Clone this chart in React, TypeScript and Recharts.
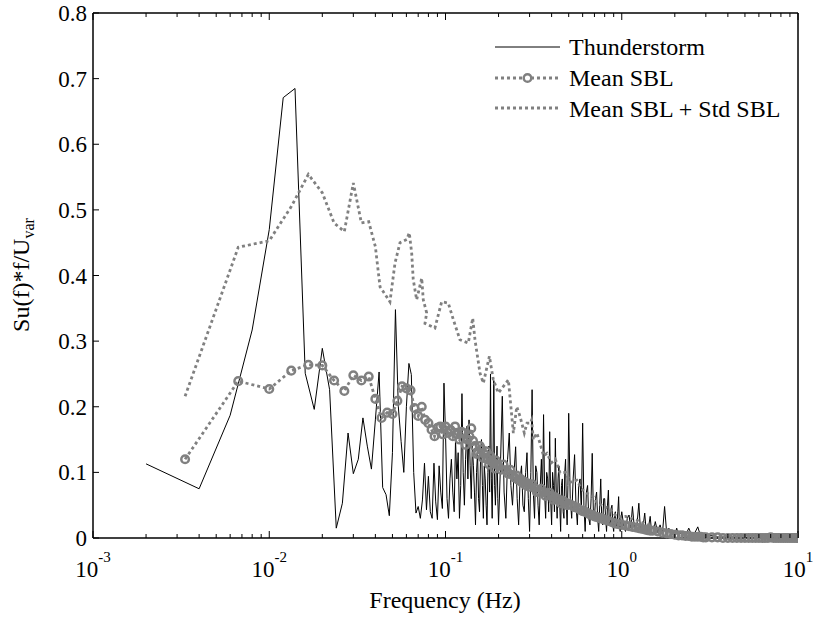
import React from "react";
import { LineChart, Line, XAxis, YAxis, Legend } from "recharts";

// [frequency Hz, Su(f)*f/Uvar]
const thunderstorm: [number, number][] = [
  [0.002, 0.113], [0.004, 0.075], [0.006, 0.187], [0.008, 0.317], [0.01, 0.47],
  [0.012, 0.671], [0.014, 0.685], [0.016, 0.251], [0.018, 0.196], [0.02, 0.289],
  [0.022, 0.226], [0.024, 0.015], [0.026, 0.053], [0.028, 0.16], [0.03, 0.098],
  [0.032, 0.12], [0.034, 0.183], [0.036, 0.14], [0.038, 0.105], [0.04, 0.18],
  [0.042, 0.253], [0.044, 0.077], [0.046, 0.066], [0.048, 0.034], [0.05, 0.13],
  [0.052, 0.348], [0.054, 0.2], [0.056, 0.147], [0.058, 0.1], [0.06, 0.2],
  [0.062, 0.266], [0.064, 0.249], [0.066, 0.1], [0.068, 0.038], [0.07, 0.048],
  [0.072, 0.03], [0.074, 0.058], [0.076, 0.114], [0.078, 0.043], [0.08, 0.094],
  [0.082, 0.04], [0.084, 0.03], [0.086, 0.114], [0.088, 0.055], [0.09, 0.028],
  [0.092, 0.11], [0.094, 0.07], [0.096, 0.045], [0.098, 0.236], [0.1, 0.16],
];

const thunderstormMid: [number, number][] = [
  [0.102, 0.06], [0.104, 0.03], [0.106, 0.09], [0.108, 0.12], [0.11, 0.07], [0.112, 0.04],
  [0.114, 0.15], [0.116, 0.09], [0.118, 0.13], [0.12, 0.03], [0.122, 0.08],
  [0.124, 0.22], [0.126, 0.1], [0.128, 0.05], [0.13, 0.12], [0.132, 0.17], [0.134, 0.09],
  [0.136, 0.18], [0.138, 0.11], [0.14, 0.06], [0.142, 0.14],
  [0.144, 0.11], [0.146, 0.07], [0.148, 0.02], [0.15, 0.1], [0.152, 0.13], [0.154, 0.06],
  [0.156, 0.04], [0.158, 0.12], [0.16, 0.15], [0.162, 0.08],
  [0.164, 0.03], [0.166, 0.11], [0.168, 0.09], [0.17, 0.05], [0.172, 0.02], [0.174, 0.1],
  [0.176, 0.14], [0.178, 0.07], [0.18, 0.25], [0.182, 0.09],
  [0.184, 0.03], [0.186, 0.12], [0.188, 0.24], [0.19, 0.08], [0.192, 0.05], [0.194, 0.1],
  [0.196, 0.14], [0.198, 0.06], [0.2, 0.02],
  [0.205, 0.11], [0.21, 0.216], [0.215, 0.07], [0.22, 0.03], [0.225, 0.12], [0.23, 0.16],
  [0.235, 0.08], [0.24, 0.05], [0.245, 0.1], [0.25, 0.139], [0.255, 0.06],
  [0.26, 0.02], [0.265, 0.09], [0.27, 0.11], [0.275, 0.05], [0.28, 0.04], [0.285, 0.1],
  [0.29, 0.13], [0.295, 0.06], [0.3, 0.01],
  [0.305, 0.1], [0.31, 0.226], [0.315, 0.07], [0.32, 0.03], [0.325, 0.11], [0.33, 0.1],
  [0.335, 0.05], [0.34, 0.02], [0.345, 0.08], [0.35, 0.12],
  [0.355, 0.06], [0.36, 0.188], [0.365, 0.07], [0.37, 0.03], [0.375, 0.1], [0.38, 0.09],
  [0.385, 0.04], [0.39, 0.162], [0.395, 0.06], [0.4, 0.02],
  [0.405, 0.1], [0.41, 0.08], [0.415, 0.04], [0.42, 0.152], [0.425, 0.07], [0.43, 0.03],
  [0.435, 0.09], [0.44, 0.11], [0.445, 0.05], [0.45, 0.01],
  [0.455, 0.08], [0.46, 0.09], [0.465, 0.04], [0.47, 0.03], [0.475, 0.1], [0.48, 0.12],
  [0.485, 0.05], [0.49, 0.02], [0.495, 0.08], [0.5, 0.19],
];

const thunderstormHigh: [number, number][] = [
  [0.51, 0.06], [0.52, 0.03], [0.53, 0.09], [0.54, 0.127], [0.55, 0.05], [0.56, 0.02],
  [0.57, 0.08], [0.58, 0.09], [0.59, 0.04], [0.6, 0.175],
  [0.61, 0.05], [0.62, 0.01], [0.63, 0.07], [0.64, 0.08], [0.65, 0.03], [0.66, 0.02],
  [0.67, 0.06], [0.68, 0.129], [0.69, 0.04], [0.7, 0.03],
  [0.71, 0.06], [0.72, 0.07], [0.73, 0.03], [0.74, 0.01], [0.75, 0.05], [0.76, 0.09],
  [0.77, 0.03], [0.78, 0.02], [0.79, 0.06], [0.8, 0.06],
  [0.81, 0.03], [0.82, 0.01], [0.83, 0.05], [0.84, 0.073], [0.85, 0.02], [0.86, 0.02],
  [0.87, 0.045], [0.88, 0.05], [0.89, 0.02], [0.9, 0.01],
  [0.91, 0.035], [0.92, 0.04], [0.93, 0.015], [0.94, 0.02], [0.95, 0.04], [0.96, 0.063],
  [0.97, 0.02], [0.98, 0.01], [0.99, 0.03], [1.0, 0.04],
  [1.025, 0.02], [1.05, 0.01], [1.075, 0.03], [1.1, 0.035], [1.125, 0.015], [1.15, 0.048],
  [1.175, 0.02], [1.2, 0.01], [1.225, 0.025], [1.25, 0.053],
  [1.275, 0.015], [1.3, 0.008], [1.325, 0.02], [1.35, 0.038], [1.375, 0.012], [1.4, 0.01],
  [1.425, 0.02], [1.45, 0.033], [1.475, 0.01], [1.5, 0.005],
  [1.55, 0.025], [1.6, 0.008], [1.65, 0.02], [1.7, 0.005], [1.75, 0.048],
  [1.8, 0.006], [1.85, 0.015], [1.9, 0.004], [1.95, 0.012], [2.0, 0.003],
  [2.05, 0.015], [2.1, 0.004], [2.2, 0.01], [2.3, 0.003], [2.4, 0.015],
  [2.5, 0.004], [2.6, 0.008], [2.7, 0.017], [2.8, 0.003], [3.0, 0.005],
  [3.5, 0.002], [4.0, 0.001], [5.0, 0.001], [6.0, 0.001], [8.0, 0.001], [10.0, 0.001],
];

const meanSbl: [number, number][] = [
  [0.00333, 0.12], [0.00667, 0.239], [0.01, 0.227], [0.01333, 0.255], [0.01667, 0.264],
  [0.02, 0.263], [0.02333, 0.24], [0.02667, 0.224], [0.03, 0.248], [0.03333, 0.24],
  [0.03667, 0.246], [0.04, 0.212], [0.04333, 0.183], [0.04667, 0.191], [0.05, 0.189],
  [0.05333, 0.209], [0.05667, 0.231], [0.06, 0.228], [0.06333, 0.225], [0.06667, 0.198],
  [0.07, 0.186], [0.07333, 0.2], [0.07667, 0.18], [0.08, 0.175], [0.08333, 0.165],
  [0.08667, 0.155], [0.09, 0.168], [0.09333, 0.17], [0.09667, 0.158], [0.1, 0.17],
  [0.1033, 0.16], [0.1067, 0.165], [0.11, 0.155], [0.1133, 0.17], [0.1167, 0.158],
  [0.12, 0.15], [0.1233, 0.162], [0.1267, 0.16], [0.13, 0.142], [0.1333, 0.15],
  [0.1367, 0.155], [0.14, 0.167], [0.1433, 0.148], [0.1467, 0.14], [0.15, 0.128],
  [0.1533, 0.13], [0.1567, 0.14], [0.16, 0.135], [0.1633, 0.122], [0.1667, 0.128],
  [0.17, 0.132], [0.1733, 0.12], [0.1767, 0.112], [0.18, 0.125], [0.1833, 0.118],
  [0.1867, 0.114], [0.19, 0.106], [0.1933, 0.118], [0.1967, 0.112], [0.2, 0.11],
  [0.2067, 0.104], [0.2133, 0.112], [0.22, 0.103], [0.2267, 0.098], [0.2333, 0.104],
  [0.24, 0.096], [0.2467, 0.092], [0.2533, 0.095], [0.26, 0.088], [0.2667, 0.09],
  [0.2733, 0.084], [0.28, 0.086], [0.2867, 0.08], [0.2933, 0.083], [0.3, 0.078],
  [0.31, 0.082], [0.32, 0.076], [0.33, 0.07], [0.34, 0.072], [0.35, 0.075],
  [0.36, 0.07], [0.37, 0.064], [0.38, 0.066], [0.39, 0.069], [0.4, 0.064],
  [0.41, 0.058], [0.42, 0.062], [0.43, 0.06], [0.44, 0.058], [0.45, 0.053],
  [0.46, 0.057], [0.47, 0.055], [0.48, 0.054], [0.49, 0.05], [0.5, 0.052],
  [0.52, 0.05], [0.54, 0.047], [0.56, 0.046], [0.58, 0.043], [0.6, 0.041],
  [0.62, 0.04], [0.64, 0.038], [0.66, 0.036], [0.68, 0.035], [0.7, 0.033],
  [0.72, 0.032], [0.74, 0.031], [0.76, 0.03], [0.78, 0.029], [0.8, 0.028],
  [0.84, 0.026], [0.88, 0.024], [0.92, 0.022], [0.96, 0.021], [1.0, 0.02],
  [1.05, 0.019], [1.1, 0.018], [1.15, 0.017], [1.2, 0.016], [1.25, 0.015], [1.3, 0.014],
  [1.35, 0.013], [1.4, 0.012], [1.45, 0.011], [1.5, 0.011],
  [1.6, 0.01], [1.7, 0.008], [1.8, 0.007], [1.9, 0.006], [2.0, 0.005],
  [2.1, 0.004], [2.2, 0.004], [2.3, 0.003], [2.4, 0.003], [2.5, 0.002], [2.6, 0.002],
  [2.7, 0.002], [2.8, 0.002], [2.9, 0.001], [3.0, 0.001],
  [3.25, 0.001], [3.5, 0.001], [3.75, 0], [4.0, 0], [4.25, 0], [4.5, 0],
  [4.75, 0], [5.0, 0], [5.25, 0], [5.5, 0], [5.75, 0], [6.0, 0], [6.25, 0],
  [6.5, 0], [6.75, 0], [7.0, 0.001], [7.25, 0], [7.5, 0], [7.75, 0], [8.0, 0],
  [8.25, 0], [8.5, 0], [8.75, 0], [9.0, 0], [9.25, 0], [9.5, 0], [9.75, 0], [10.0, 0],
];

const meanPlusStd: [number, number][] = [
  [0.00333, 0.216], [0.00667, 0.443], [0.01, 0.453], [0.01333, 0.505], [0.01667, 0.554],
  [0.02, 0.526], [0.02333, 0.48], [0.02667, 0.467], [0.03, 0.541], [0.03333, 0.48],
  [0.03667, 0.482], [0.04, 0.444], [0.0425, 0.383], [0.0484, 0.36], [0.0517, 0.419],
  [0.0552, 0.45], [0.0603, 0.455], [0.0623, 0.465], [0.0643, 0.434], [0.0656, 0.394],
  [0.0686, 0.363], [0.0733, 0.396], [0.0748, 0.363], [0.0782, 0.343], [0.0765, 0.327],
  [0.0871, 0.32], [0.0951, 0.36], [0.1037, 0.358], [0.1107, 0.333], [0.1208, 0.302],
  [0.1347, 0.297], [0.1427, 0.335], [0.147, 0.302], [0.157, 0.251], [0.164, 0.236],
  [0.1774, 0.277], [0.1868, 0.241], [0.1995, 0.221], [0.2274, 0.241], [0.235, 0.2],
  [0.2427, 0.16], [0.2537, 0.2], [0.265, 0.185], [0.28, 0.16], [0.29, 0.175],
  [0.302, 0.175], [0.308, 0.18], [0.315, 0.15], [0.33, 0.16], [0.344, 0.144],
  [0.36, 0.125], [0.376, 0.129], [0.4, 0.115], [0.42, 0.12], [0.447, 0.099],
  [0.48, 0.1], [0.51, 0.085], [0.556, 0.088], [0.59, 0.075], [0.634, 0.068],
  [0.68, 0.065], [0.72, 0.055], [0.788, 0.048], [0.85, 0.045], [0.938, 0.032],
  [1.05, 0.033], [1.22, 0.027], [1.4, 0.02], [1.6, 0.015], [2.06, 0.007],
  [2.6, 0.003], [3.5, 0.001], [5.0, 0], [7.0, 0.002], [10.0, 0],
];

const xMajorTicks = [0.001, 0.01, 0.1, 1, 10];
const xMinorTicks = [0.001, 0.01, 0.1, 1].flatMap((d) => [2, 3, 4, 5, 6, 7, 8, 9].map((m) => m * d));
const yTicks = [0, 0.1, 0.2, 0.3, 0.4, 0.5, 0.6, 0.7, 0.8];
const seriesNames = ["Thunderstorm", "Mean SBL", "Mean SBL + Std SBL"];

const FONT = "Liberation Serif";
const GRAY = "#808080";

const toRows = (pts: [number, number][]) => pts.map(([f, v]) => ({ f, v }));

const isMajor = (v: number) => Math.abs(Math.log10(v) - Math.round(Math.log10(v))) < 1e-6;

const BottomTick = (props: any) => {
  const { x, y, payload } = props;
  const v = payload.value;
  const major = isMajor(v);
  return (
    <g>
      <line x1={x} x2={x} y1={y} y2={y - (major ? 7 : 4)} stroke="#000" />
      {major && (
        <text x={x} y={y + 39} textAnchor="middle" fontSize={23} fontFamily={FONT} fill="#000">
          10
          <tspan dy={-15} fontSize={15}>{Math.round(Math.log10(v))}</tspan>
        </text>
      )}
    </g>
  );
};

const TopTick = (props: any) => {
  const { x, y, payload } = props;
  const major = isMajor(payload.value);
  return <line x1={x} x2={x} y1={y} y2={y + (major ? 7 : 4)} stroke="#000" />;
};

const LeftTick = (props: any) => {
  const { x, y, payload } = props;
  return (
    <g>
      <line x1={x} x2={x + 6} y1={y} y2={y} stroke="#000" />
      <text x={x - 6} y={y} dy="0.35em" textAnchor="end" fontSize={23} fontFamily={FONT} fill="#000">
        {String(payload.value)}
      </text>
    </g>
  );
};

const RightTick = (props: any) => {
  const { x, y } = props;
  return <line x1={x} x2={x - 6} y1={y} y2={y} stroke="#000" />;
};

const YLabel = () => (
  <text x={29} y={275} transform="rotate(-90, 29, 275)" textAnchor="middle" fontSize={24} fontFamily={FONT} fill="#000">
    Su(f)*f/U
    <tspan dy={5} fontSize={16}>var</tspan>
  </text>
);

const XLabel = () => (
  <text x={445} y={608} textAnchor="middle" fontSize={24} fontFamily={FONT} fill="#000">
    Frequency (Hz)
  </text>
);

const renderLegend = () => (
  <svg width={320} height={100} style={{ display: "block" }}>
    <line x1={5} x2={70} y1={19} y2={19} stroke="#000" strokeWidth={1} />
    <line x1={5} x2={70} y1={50} y2={50} stroke={GRAY} strokeWidth={2.8} strokeDasharray="3 3" />
    <circle cx={37.5} cy={50} r={3.8} stroke={GRAY} strokeWidth={2.5} fill="#fff" />
    <line x1={5} x2={70} y1={80} y2={80} stroke={GRAY} strokeWidth={2.8} strokeDasharray="3 3" />
    {seriesNames.map((name, i) => (
      <text key={name} x={79} y={27 + i * 31} fontSize={24} fontFamily={FONT} fill="#000">
        {name}
      </text>
    ))}
  </svg>
);

export default function App() {
  return (
    <div style={{ position: "absolute", left: 0, top: 0, background: "#fff" }}>
      <LineChart width={816} height={623} margin={{ top: 12, right: 17, bottom: 25, left: 23 }}>
        <XAxis
          dataKey="f"
          type="number"
          scale="log"
          domain={[0.001, 10]}
          allowDataOverflow
          ticks={[...xMajorTicks, ...xMinorTicks]}
          interval={0}
          tick={<BottomTick />}
          tickLine={false}
          tickSize={0}
          tickMargin={0}
          height={60}
          axisLine={{ stroke: "#000", strokeWidth: 1.5 }}
          label={<XLabel />}
        />
        <XAxis
          xAxisId="top"
          orientation="top"
          dataKey="f"
          type="number"
          scale="log"
          domain={[0.001, 10]}
          allowDataOverflow
          ticks={[...xMajorTicks, ...xMinorTicks]}
          interval={0}
          tick={<TopTick />}
          tickLine={false}
          tickSize={0}
          tickMargin={0}
          height={1}
          axisLine={{ stroke: "#000", strokeWidth: 1.5 }}
        />
        <YAxis
          type="number"
          domain={[0, 0.8]}
          ticks={yTicks}
          interval={0}
          tick={<LeftTick />}
          tickLine={false}
          tickSize={0}
          tickMargin={0}
          width={70}
          axisLine={{ stroke: "#000", strokeWidth: 1.5 }}
          label={<YLabel />}
        />
        <YAxis
          yAxisId="right"
          orientation="right"
          type="number"
          domain={[0, 0.8]}
          ticks={yTicks}
          interval={0}
          tick={<RightTick />}
          tickLine={false}
          tickSize={0}
          tickMargin={0}
          width={1}
          axisLine={{ stroke: "#000", strokeWidth: 1.5 }}
        />
        <Legend
          layout="vertical"
          align="center"
          verticalAlign="middle"
          content={renderLegend}
          wrapperStyle={{ left: 490, top: 28, width: 320, height: 100 }}
        />
        <Line
          data={toRows([...thunderstorm, ...thunderstormMid, ...thunderstormHigh])}
          dataKey="v"
          name={seriesNames[0]}
          type="linear"
          stroke="#000"
          strokeWidth={1}
          dot={false}
          isAnimationActive={false}
        />
        <Line
          data={toRows(meanSbl)}
          dataKey="v"
          name={seriesNames[1]}
          type="linear"
          stroke={GRAY}
          strokeWidth={2.8}
          strokeDasharray="3 3"
          dot={{ r: 3.8, stroke: GRAY, strokeWidth: 2.5, fill: "none", strokeDasharray: "none" }}
          isAnimationActive={false}
        />
        <Line
          data={toRows(meanPlusStd)}
          dataKey="v"
          name={seriesNames[2]}
          type="linear"
          stroke={GRAY}
          strokeWidth={2.8}
          strokeDasharray="3 3"
          dot={false}
          isAnimationActive={false}
        />
      </LineChart>
    </div>
  );
}
